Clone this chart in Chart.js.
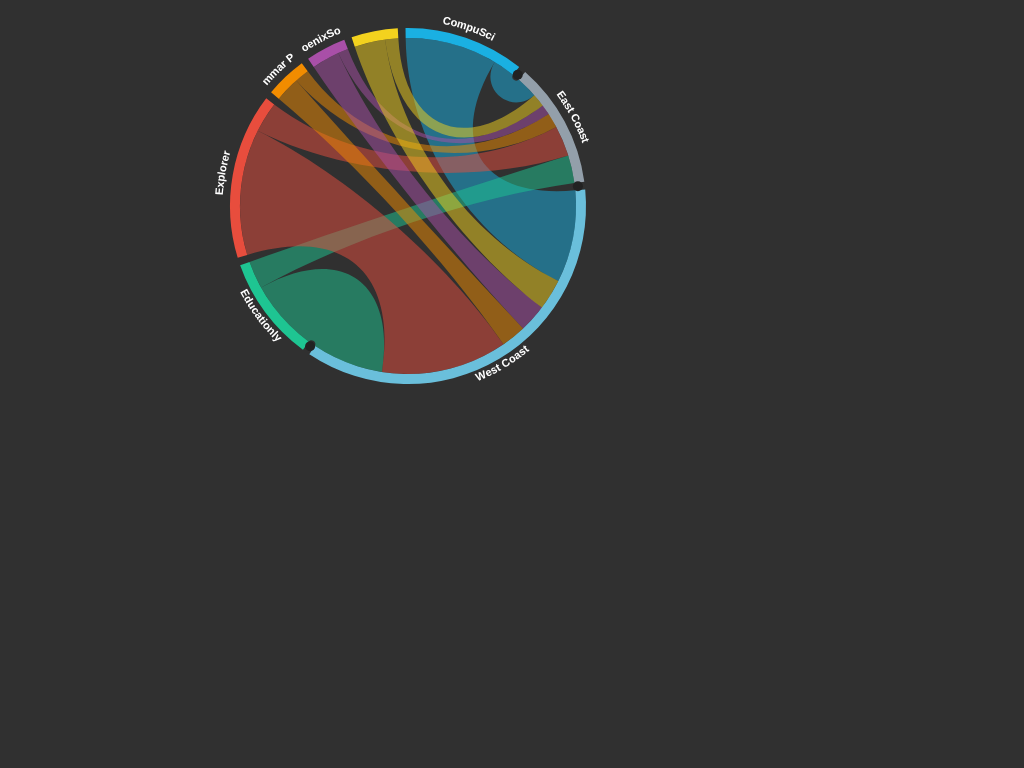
<!DOCTYPE html>
<html>
<head>
<meta charset="utf-8">
<title>Dependency wheel</title>
<script src="https://cdn.jsdelivr.net/npm/chart.js@4.4.1/dist/chart.umd.min.js"></script>
<style>
  html, body { margin: 0; padding: 0; background: #303030; }
  canvas { display: block; }
</style>
</head>
<body>
<canvas id="wheel" width="1024" height="768"></canvas>
<script>
// nodes, clockwise from 12 o'clock (labels as they show, cut ones too)
const nodeLabels = ['CompuSci', 'East Coast', 'West Coast', 'Educationly', 'Explorer', 'mmar P', 'oenixSo', ''];
const nodeColors = ['#1ab0e2', '#939faa', '#6abfdb', '#1ec592', '#e84d3d', '#f28c00', '#a94fa8', '#f3d21e'];

// links (drawing order)
const linkFrom  = [0, 0, 3, 3, 4, 4, 5, 5, 6, 6, 7, 7];
const linkTo    = [2, 1, 2, 1, 2, 1, 2, 1, 2, 1, 2, 1];
const linkValue = [63, 15, 49, 19, 86, 21, 17, 10, 19, 7, 21, 9];

const GAP_DEG = 2.5;
const CURVE = 0.6;
const LINK_ALPHA = 0.5;

// node totals = in + out
let nodeTotals = nodeLabels.map(() => 0);
linkValue.forEach((v, k) => {
    nodeTotals[linkFrom[k]] += v;
    nodeTotals[linkTo[k]] += v;
});
const sumNodes = nodeTotals.reduce((a, b) => a + b, 0);
const gapValue = sumNodes * GAP_DEG / (360 - nodeLabels.length * GAP_DEG);

// ring for the doughnut: node, gap, node, gap ...
let ringValues = [];
let ringColors = [];
let ringLabels = [];
nodeTotals.forEach((v, i) => {
    ringValues.push(v, gapValue);
    ringColors.push(nodeColors[i], 'rgba(0,0,0,0)');
    ringLabels.push(nodeLabels[i], '');
});

function hexA(hex, a) {
    let n = parseInt(hex.slice(1), 16);
    return 'rgba(' + (n >> 16) + ',' + ((n >> 8) & 255) + ',' + (n & 255) + ',' + a + ')';
}

const TAU = Math.PI * 2;
function norm(a) { a = a % TAU; return a < 0 ? a + TAU : a; }

const wheelPlugin = {
    id: 'wheelLinks',
    afterDatasetsDraw(chart) {
        const ctx = chart.ctx;
        const arcs = chart.getDatasetMeta(0).data;
        let nodes = nodeLabels.map((lab, i) => {
            const p = arcs[i * 2].getProps(['x', 'y', 'startAngle', 'endAngle', 'innerRadius', 'outerRadius'], true);
            return { x: p.x, y: p.y, s: p.startAngle, e: p.endAngle, ri: p.innerRadius, ro: p.outerRadius,
                     mid: (p.startAngle + p.endAngle) / 2, slots: {} };
        });
        const cx = nodes[0].x, cy = nodes[0].y, rIn = nodes[0].ri, rOut = nodes[0].ro;

        // place each link on its two nodes, ordered so they do not cross
        nodes.forEach((nd, i) => {
            let list = [];
            linkValue.forEach((v, k) => {
                if (linkFrom[k] === i) list.push({ k: k, other: linkTo[k], v: v });
                if (linkTo[k] === i) list.push({ k: k, other: linkFrom[k], v: v });
            });
            list.sort((a, b) => norm(nodes[b.other].mid - nd.mid) - norm(nodes[a.other].mid - nd.mid));
            let perUnit = (nd.e - nd.s) / nodeTotals[i];
            let a = nd.s;
            list.forEach(l => {
                nd.slots[l.k] = [a, a + l.v * perUnit];
                a += l.v * perUnit;
            });
        });

        const pt = (ang, r) => [cx + r * Math.cos(ang), cy + r * Math.sin(ang)];
        function curveFactor(a, b) {
            let d = Math.abs(norm(a) - norm(b));
            if (d > Math.PI) d = TAU - d;
            return d < 1 ? CURVE * d : CURVE;
        }
        function curveTo(a, b) {
            const f = curveFactor(a, b);
            const c1 = pt(a, rIn * (1 - f)), c2 = pt(b, rIn * (1 - f)), p = pt(b, rIn);
            ctx.bezierCurveTo(c1[0], c1[1], c2[0], c2[1], p[0], p[1]);
        }

        ctx.save();
        linkValue.forEach((v, k) => {
            const [s0, s1] = nodes[linkFrom[k]].slots[k];
            const [t0, t1] = nodes[linkTo[k]].slots[k];
            ctx.beginPath();
            let p0 = pt(s0, rIn);
            ctx.moveTo(p0[0], p0[1]);
            ctx.arc(cx, cy, rIn, s0, s1, false);
            curveTo(s1, t0);
            ctx.arc(cx, cy, rIn, t0, t1, false);
            curveTo(t1, s0);
            ctx.closePath();
            ctx.fillStyle = hexA(nodeColors[linkFrom[k]], LINK_ALPHA);
            ctx.fill();
        });

        // dark caps in the gaps around the receiving nodes
        const isTarget = nodes.map((nd, i) => !linkFrom.includes(i));
        ctx.fillStyle = '#222222';
        nodes.forEach((nd, i) => {
            const j = (i + 1) % nodes.length;
            if (!isTarget[i] && !isTarget[j]) return;
            let nextStart = nodes[j].s;
            if (nextStart < nd.e) nextStart += TAU;
            const g = (nd.e + nextStart) / 2;
            const c = pt(g, rIn + 3);
            ctx.beginPath();
            ctx.arc(c[0], c[1], 5, 0, TAU);
            ctx.fill();
        });

        // curved labels
        ctx.fillStyle = '#ffffff';
        ctx.font = 'bold 11px "Liberation Sans", Arial, sans-serif';
        ctx.textAlign = 'center';
        ctx.textBaseline = 'middle';
        nodes.forEach((nd, i) => {
            const text = nodeLabels[i];
            if (!text) return;
            const lower = Math.sin(nd.mid) > 0;
            const r = rOut + (lower ? 7.5 : 10.5);
            const total = ctx.measureText(text).width;
            let ang = lower ? nd.mid + total / 2 / r : nd.mid - total / 2 / r;
            for (const ch of text) {
                const w = ctx.measureText(ch).width;
                const a = lower ? ang - w / 2 / r : ang + w / 2 / r;
                ctx.save();
                ctx.translate(cx + r * Math.cos(a), cy + r * Math.sin(a));
                ctx.rotate(lower ? a - Math.PI / 2 : a + Math.PI / 2);
                ctx.fillText(ch, 0, 0);
                ctx.restore();
                ang = lower ? ang - w / r : ang + w / r;
            }
        });
        ctx.restore();
    }
};

new Chart(document.getElementById('wheel'), {
    type: 'doughnut',
    data: {
        labels: ringLabels,
        datasets: [{
            data: ringValues,
            backgroundColor: ringColors,
            borderWidth: 0,
            hoverOffset: 0
        }]
    },
    options: {
        responsive: false,
        animation: false,
        events: [],
        devicePixelRatio: 1,
        rotation: -0.8,
        cutout: '94.4%',
        layout: { padding: { left: 230, right: 438, top: 28, bottom: 384 } },
        plugins: {
            legend: { display: false },
            tooltip: { enabled: false }
        }
    },
    plugins: [wheelPlugin]
});
</script>
</body>
</html>
